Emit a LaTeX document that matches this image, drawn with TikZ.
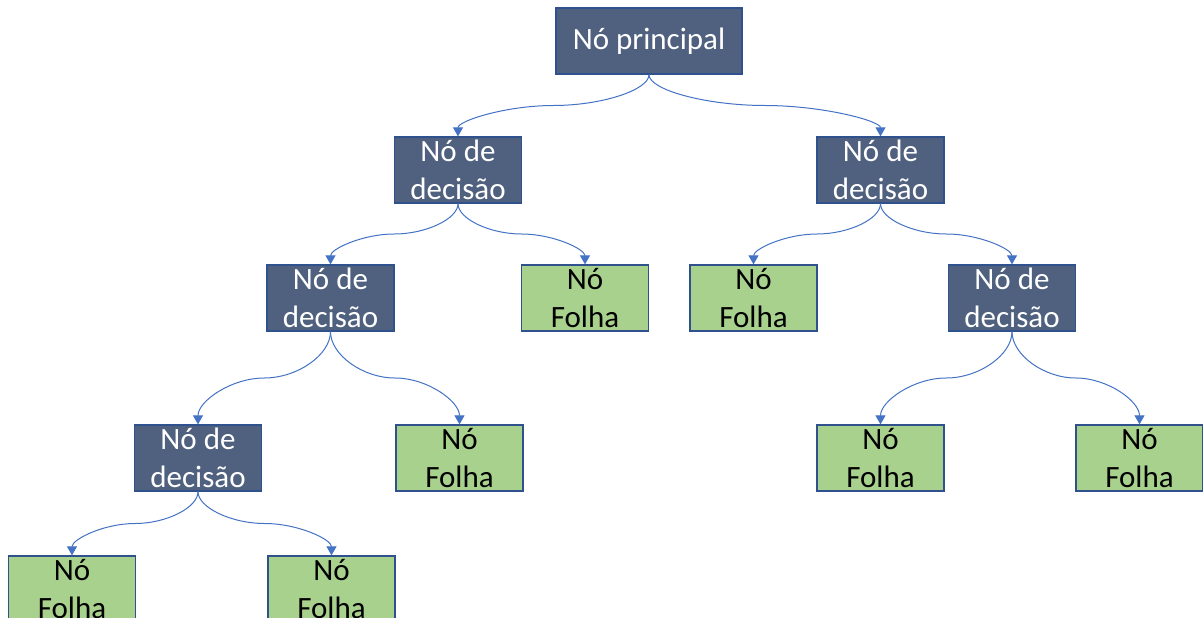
\documentclass[tikz,border=0pt]{standalone}
\usepackage{fontspec}
\setmainfont{Carlito}
\usetikzlibrary{arrows.meta,calc}
\definecolor{slate}{HTML}{50617F}
\definecolor{leafgreen}{HTML}{A9D18E}
\definecolor{edgeblue}{HTML}{2F528F}
\definecolor{linkblue}{HTML}{4472C4}
\tikzset{
  box/.style={draw=edgeblue, line width=1.3pt, minimum width=127pt,
    minimum height=66pt, inner sep=0pt, align=center,
    font=\fontsize{31}{38}\selectfont},
  decision/.style={box, fill=slate, text=white},
  leaf/.style={box, fill=leafgreen, text=black},
  link/.style={draw=linkblue, line width=1pt,
    -{Triangle[length=9pt,width=10pt]}}
}
% S-shaped curved connector from the bottom of #1 to the top of #2,
% horizontal tangent halfway down
\newcommand\branch[2]{%
  \draw[link] let \p1=(#1.south), \p2=(#2.north) in
    (\p1) .. controls (\x1,{\y1+(\y2-\y1)/4})
                  and ({\x1+(\x2-\x1)/4},{(\y1+\y2)/2})
          .. ({(\x1+\x2)/2},{(\y1+\y2)/2})
          .. controls ({\x1+3*(\x2-\x1)/4},{(\y1+\y2)/2})
                  and (\x2,{\y1+3*(\y2-\y1)/4})
          .. (\p2);}
\begin{document}
\begin{tikzpicture}[x=1pt,y=-1pt]
  \fill[white] (0,0) rectangle (1203,618);
  \useasboundingbox (0,0) rectangle (1203,618);

  \node[decision, minimum width=186pt] (root) at (649,41) {Nó principal};

  \node[decision] (dl1) at (458,170) {Nó de\\decisão};
  \node[decision] (dr1) at (880.5,170) {Nó de\\decisão};

  \node[decision] (dl2) at (330.5,298) {Nó de\\decisão};
  \node[leaf]     (fa)  at (585,298) {Nó\\Folha};
  \node[leaf]     (fb)  at (753.5,298) {Nó\\Folha};
  \node[decision] (dr2) at (1012,298) {Nó de\\decisão};

  \node[decision] (dl3) at (198,458) {Nó de\\decisão};
  \node[leaf]     (fc)  at (459.5,458) {Nó\\Folha};
  \node[leaf]     (fd)  at (880.5,458) {Nó\\Folha};
  \node[leaf]     (fe)  at (1139.5,458) {Nó\\Folha};

  \node[leaf]     (ff)  at (72,589) {Nó\\Folha};
  \node[leaf]     (fg)  at (331.5,589) {Nó\\Folha};

  \branch{root}{dl1}
  \branch{root}{dr1}
  \branch{dl1}{dl2}
  \branch{dl1}{fa}
  \branch{dr1}{fb}
  \branch{dr1}{dr2}
  \branch{dl2}{dl3}
  \branch{dl2}{fc}
  \branch{dr2}{fd}
  \branch{dr2}{fe}
  \branch{dl3}{ff}
  \branch{dl3}{fg}
\end{tikzpicture}
\end{document}
